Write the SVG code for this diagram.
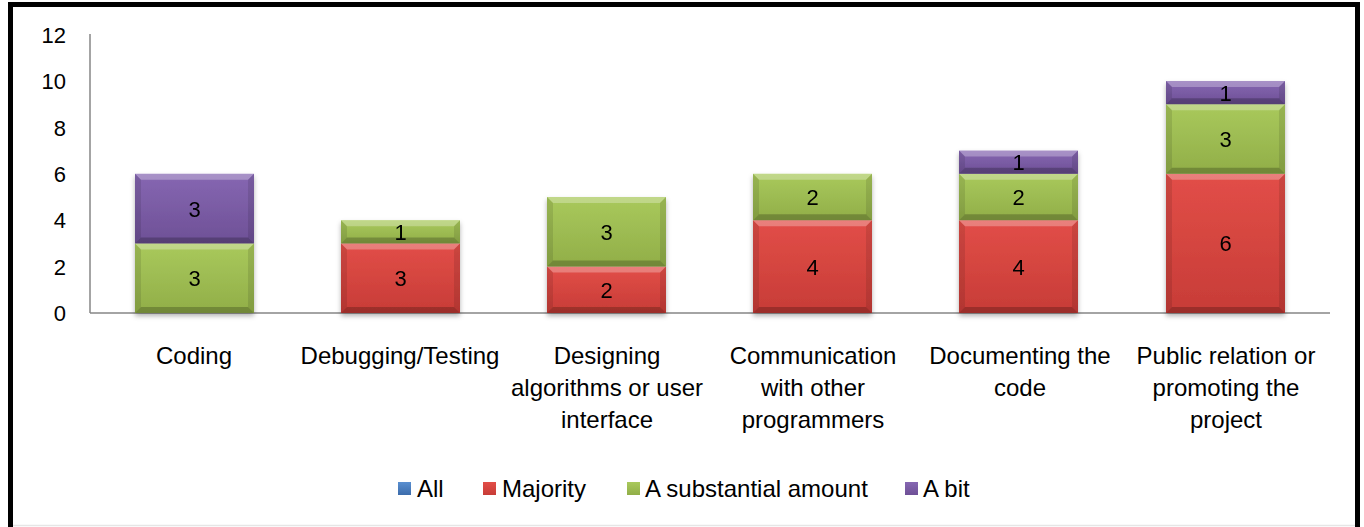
<svg xmlns="http://www.w3.org/2000/svg" xmlns:xlink="http://www.w3.org/1999/xlink" width="1364" height="527" viewBox="0 0 1364 527">
<style>
text{font-family:"Liberation Sans",Arial,sans-serif;font-size:22px;fill:#000}
.v{text-anchor:middle}
.tick{text-anchor:end}
.cat{text-anchor:middle;font-size:24px}
.leg{font-size:24px}
.red{fill:url(#gRed)}
.grn{fill:url(#gGrn)}
.pur{fill:url(#gPur)}
.blu{fill:url(#gBlu)}
.bt{fill:#fff;opacity:.28}
.bb{fill:#000;opacity:.22}
.bs{fill:#000;opacity:.1}
.axis{stroke:#868686;stroke-width:1.5;fill:none}
</style>
<defs>
<linearGradient id="gRed" x1="0" y1="0" x2="0" y2="1"><stop offset="0" stop-color="#e24e48"/><stop offset="1" stop-color="#c73c37"/></linearGradient>
<linearGradient id="gGrn" x1="0" y1="0" x2="0" y2="1"><stop offset="0" stop-color="#a9c95c"/><stop offset="1" stop-color="#91ae48"/></linearGradient>
<linearGradient id="gPur" x1="0" y1="0" x2="0" y2="1"><stop offset="0" stop-color="#8667b2"/><stop offset="1" stop-color="#6e5096"/></linearGradient>
<linearGradient id="gBlu" x1="0" y1="0" x2="0" y2="1"><stop offset="0" stop-color="#5a8fd0"/><stop offset="1" stop-color="#3c6cab"/></linearGradient>
<polygon id="bt" class="bt" points="0,0 119,0 113,6 6,6"/>
<filter id="sh" x="-10%" y="-10%" width="120%" height="130%"><feDropShadow dx="0" dy="3" stdDeviation="2.5" flood-color="#000" flood-opacity="0.3"/></filter>
</defs>
<rect x="0" y="0" width="1364" height="527" fill="#fff"/>
<path d="M10.5,527 V4.5 H1357.5 V527" fill="none" stroke="#000" stroke-width="5"/>
<line x1="13" y1="525.5" x2="1355" y2="525.5" stroke="#e6e6e6" stroke-width="1.5"/>

<g id="axes">
<line class="axis" x1="90" y1="34" x2="90" y2="313"/>
<line class="axis" x1="90" y1="313" x2="1330" y2="313"/>
<text class="tick" x="66" y="43">12</text>
<text class="tick" x="66" y="89">10</text>
<text class="tick" x="66" y="136">8</text>
<text class="tick" x="66" y="182">6</text>
<text class="tick" x="66" y="228">4</text>
<text class="tick" x="66" y="275">2</text>
<text class="tick" x="66" y="321">0</text>
</g>

<g id="bar-coding" filter="url(#sh)">
<g transform="translate(135,243.4)"><rect width="119" height="69.6" class="grn"/><use xlink:href="#bt"/><polygon class="bb" points="0,69.6 119,69.6 113,63.6 6,63.6"/><polygon class="bs" points="0,0 6,6 6,63.6 0,69.6"/><polygon class="bs" points="119,0 113,6 113,63.6 119,69.6"/><text class="v" x="59.5" y="42.8">3</text></g>
<g transform="translate(135,173.8)"><rect width="119" height="69.6" class="pur"/><use xlink:href="#bt"/><polygon class="bb" points="0,69.6 119,69.6 113,63.6 6,63.6"/><polygon class="bs" points="0,0 6,6 6,63.6 0,69.6"/><polygon class="bs" points="119,0 113,6 113,63.6 119,69.6"/><text class="v" x="59.5" y="42.8">3</text></g>
</g>

<g id="bar-debugging" filter="url(#sh)">
<g transform="translate(341,243.4)"><rect width="119" height="69.6" class="red"/><use xlink:href="#bt"/><polygon class="bb" points="0,69.6 119,69.6 113,63.6 6,63.6"/><polygon class="bs" points="0,0 6,6 6,63.6 0,69.6"/><polygon class="bs" points="119,0 113,6 113,63.6 119,69.6"/><text class="v" x="59.5" y="42.8">3</text></g>
<g transform="translate(341,220.2)"><rect width="119" height="23.2" class="grn"/><use xlink:href="#bt"/><polygon class="bb" points="0,23.2 119,23.2 113,17.2 6,17.2"/><polygon class="bs" points="0,0 6,6 6,17.2 0,23.2"/><polygon class="bs" points="119,0 113,6 113,17.2 119,23.2"/><text class="v" x="59.5" y="19.6">1</text></g>
</g>

<g id="bar-designing" filter="url(#sh)">
<g transform="translate(547,266.6)"><rect width="119" height="46.4" class="red"/><use xlink:href="#bt"/><polygon class="bb" points="0,46.4 119,46.4 113,40.4 6,40.4"/><polygon class="bs" points="0,0 6,6 6,40.4 0,46.4"/><polygon class="bs" points="119,0 113,6 113,40.4 119,46.4"/><text class="v" x="59.5" y="31.2">2</text></g>
<g transform="translate(547,197)"><rect width="119" height="69.6" class="grn"/><use xlink:href="#bt"/><polygon class="bb" points="0,69.6 119,69.6 113,63.6 6,63.6"/><polygon class="bs" points="0,0 6,6 6,63.6 0,69.6"/><polygon class="bs" points="119,0 113,6 113,63.6 119,69.6"/><text class="v" x="59.5" y="42.8">3</text></g>
</g>

<g id="bar-communication" filter="url(#sh)">
<g transform="translate(753,220.2)"><rect width="119" height="92.8" class="red"/><use xlink:href="#bt"/><polygon class="bb" points="0,92.8 119,92.8 113,86.8 6,86.8"/><polygon class="bs" points="0,0 6,6 6,86.8 0,92.8"/><polygon class="bs" points="119,0 113,6 113,86.8 119,92.8"/><text class="v" x="59.5" y="54.4">4</text></g>
<g transform="translate(753,173.8)"><rect width="119" height="46.4" class="grn"/><use xlink:href="#bt"/><polygon class="bb" points="0,46.4 119,46.4 113,40.4 6,40.4"/><polygon class="bs" points="0,0 6,6 6,40.4 0,46.4"/><polygon class="bs" points="119,0 113,6 113,40.4 119,46.4"/><text class="v" x="59.5" y="31.2">2</text></g>
</g>

<g id="bar-documenting" filter="url(#sh)">
<g transform="translate(959,220.2)"><rect width="119" height="92.8" class="red"/><use xlink:href="#bt"/><polygon class="bb" points="0,92.8 119,92.8 113,86.8 6,86.8"/><polygon class="bs" points="0,0 6,6 6,86.8 0,92.8"/><polygon class="bs" points="119,0 113,6 113,86.8 119,92.8"/><text class="v" x="59.5" y="54.4">4</text></g>
<g transform="translate(959,173.8)"><rect width="119" height="46.4" class="grn"/><use xlink:href="#bt"/><polygon class="bb" points="0,46.4 119,46.4 113,40.4 6,40.4"/><polygon class="bs" points="0,0 6,6 6,40.4 0,46.4"/><polygon class="bs" points="119,0 113,6 113,40.4 119,46.4"/><text class="v" x="59.5" y="31.2">2</text></g>
<g transform="translate(959,150.6)"><rect width="119" height="23.2" class="pur"/><use xlink:href="#bt"/><polygon class="bb" points="0,23.2 119,23.2 113,17.2 6,17.2"/><polygon class="bs" points="0,0 6,6 6,17.2 0,23.2"/><polygon class="bs" points="119,0 113,6 113,17.2 119,23.2"/><text class="v" x="59.5" y="19.6">1</text></g>
</g>

<g id="bar-public" filter="url(#sh)">
<g transform="translate(1166,173.8)"><rect width="119" height="139.2" class="red"/><use xlink:href="#bt"/><polygon class="bb" points="0,139.2 119,139.2 113,133.2 6,133.2"/><polygon class="bs" points="0,0 6,6 6,133.2 0,139.2"/><polygon class="bs" points="119,0 113,6 113,133.2 119,139.2"/><text class="v" x="59.5" y="77.6">6</text></g>
<g transform="translate(1166,104.2)"><rect width="119" height="69.6" class="grn"/><use xlink:href="#bt"/><polygon class="bb" points="0,69.6 119,69.6 113,63.6 6,63.6"/><polygon class="bs" points="0,0 6,6 6,63.6 0,69.6"/><polygon class="bs" points="119,0 113,6 113,63.6 119,69.6"/><text class="v" x="59.5" y="42.8">3</text></g>
<g transform="translate(1166,81)"><rect width="119" height="23.2" class="pur"/><use xlink:href="#bt"/><polygon class="bb" points="0,23.2 119,23.2 113,17.2 6,17.2"/><polygon class="bs" points="0,0 6,6 6,17.2 0,23.2"/><polygon class="bs" points="119,0 113,6 113,17.2 119,23.2"/><text class="v" x="59.5" y="19.6">1</text></g>
</g>

<g id="categories">
<text class="cat" x="194" y="364">Coding</text>
<text class="cat" x="400" y="364">Debugging/Testing</text>
<text class="cat" x="607" y="364">Designing</text>
<text class="cat" x="607" y="396">algorithms or user</text>
<text class="cat" x="607" y="428">interface</text>
<text class="cat" x="813" y="364">Communication</text>
<text class="cat" x="813" y="396">with other</text>
<text class="cat" x="813" y="428">programmers</text>
<text class="cat" x="1020" y="364">Documenting the</text>
<text class="cat" x="1020" y="396">code</text>
<text class="cat" x="1226" y="364">Public relation or</text>
<text class="cat" x="1226" y="396">promoting the</text>
<text class="cat" x="1226" y="428">project</text>
</g>

<g id="legend">
<rect x="398" y="482" width="13" height="13" class="blu"/>
<text class="leg" x="417" y="497">All</text>
<rect x="483" y="482" width="13" height="13" class="red"/>
<text class="leg" x="502" y="497">Majority</text>
<rect x="627" y="482" width="13" height="13" class="grn"/>
<text class="leg" x="645" y="497">A substantial amount</text>
<rect x="905" y="482" width="13" height="13" class="pur"/>
<text class="leg" x="923" y="497">A bit</text>
</g>
</svg>
